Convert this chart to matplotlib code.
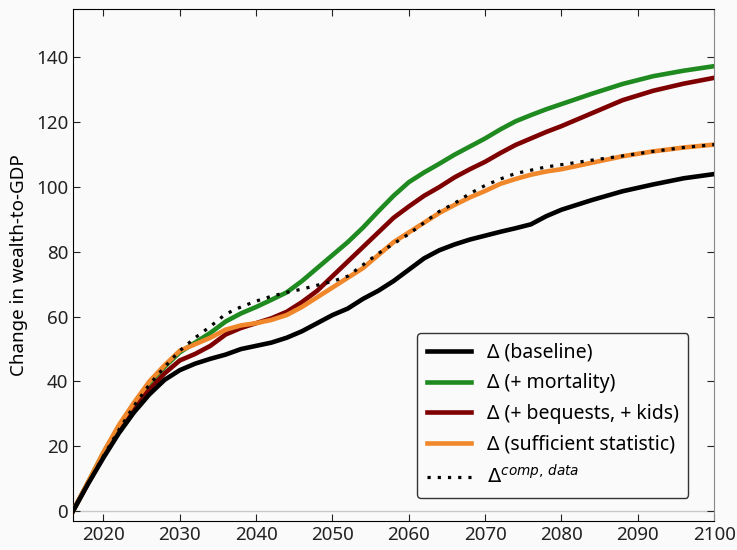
import matplotlib
matplotlib.use("Agg")
import matplotlib.pyplot as plt

plt.rcParams['font.family'] = ['Noto Sans', 'DejaVu Sans']

years = [2016, 2018, 2020, 2022, 2024, 2026, 2028, 2030, 2032, 2034, 2036, 2038,
         2040, 2042, 2044, 2046, 2048, 2050, 2052, 2054, 2056, 2058, 2060, 2062,
         2064, 2066, 2068, 2070, 2072, 2074, 2076, 2078, 2080, 2084, 2088, 2092,
         2096, 2100]

baseline = [0, 8.5, 16.5, 24, 30.5, 36, 40.5, 43.5, 45.5, 47, 48.3, 50,
            51, 52, 53.5, 55.5, 58, 60.5, 62.5, 65.5, 68, 71, 74.5, 78,
            80.5, 82.3, 83.8, 85.0, 86.2, 87.3, 88.5, 91, 93, 96, 98.7, 100.8,
            102.7, 104]
mortality = [0, 9, 18, 26, 33, 39.5, 44.5, 49, 52, 55, 58.5, 61,
             63, 65.2, 67.5, 71, 75, 79, 83, 87.5, 92.5, 97.3, 101.5, 104.5,
             107.2, 110, 112.5, 115, 117.8, 120.3, 122.2, 124, 125.6, 128.8, 131.8, 134.2,
             135.9, 137.3]
bequests = [0, 8.8, 17.2, 25, 32, 37.5, 42.5, 46.5, 48.5, 51, 54.5, 56.5,
            58, 59.5, 61.5, 64.5, 68, 72.5, 77, 81.5, 86, 90.5, 94, 97.3,
            100, 103, 105.5, 107.8, 110.5, 113, 115, 117, 118.8, 122.8, 126.8, 129.7,
            131.9, 133.7]
suff_stat = [0, 9, 18.2, 26.5, 33.5, 40, 45, 49.5, 51.5, 53.5, 56, 57.3,
             58, 59, 60.5, 63, 66, 69, 72, 75, 79, 83, 86, 89,
             92, 94.5, 96.8, 98.8, 101, 102.5, 103.8, 104.8, 105.5, 107.5, 109.5, 111,
             112.2, 113.1]
comp_data = [0, 8.6, 17, 25, 32.5, 39, 44.5, 49.5, 53.5, 57, 60.8, 63,
             64.8, 66.3, 67.5, 68.5, 69.7, 70.9, 72.5, 76, 79.5, 82.5, 85.5, 89,
             92.5, 95, 98, 100.5, 102.5, 104.2, 105.2, 106.2, 106.9, 108.3, 109.6, 111,
             112.2, 113.1]

bg = '#fafafa'
fig = plt.figure(figsize=(7.37, 5.5), dpi=100, facecolor=bg)
ax = fig.add_axes([0.099, 0.053, 0.870, 0.931], facecolor=bg)

ax.axhline(0, color='#c8c8c8', lw=1, zorder=1)
ax.plot(years, mortality, color='#1f8a1f', lw=3.3, label='Δ (+ mortality)', zorder=3)
ax.plot(years, bequests, color='#7f0000', lw=3.3, label='Δ (+ bequests, + kids)', zorder=3)
ax.plot(years, suff_stat, color='#f0872a', lw=3.3, label='Δ (sufficient statistic)', zorder=3)
ax.plot(years, baseline, color='black', lw=3.3, label='Δ (baseline)', zorder=4)
ax.plot(years, comp_data, color='black', lw=2.3, ls=(0, (1, 2.2)),
        label=r'$\Delta^{comp,\,data}$', zorder=5)

ax.set_xlim(2016, 2100)
ax.set_ylim(-3, 155)
ax.set_xticks([2020, 2030, 2040, 2050, 2060, 2070, 2080, 2090, 2100])
ax.set_yticks([0, 20, 40, 60, 80, 100, 120, 140])
ax.tick_params(direction='in', top=True, right=True, length=5, labelsize=13.5,
               colors='#222222')
ax.spines['right'].set_color('#888888')
ax.set_ylabel('Change in wealth-to-GDP', fontsize=13.5, labelpad=6)

h, l = ax.get_legend_handles_labels()
order = [3, 0, 1, 2, 4]
leg = ax.legend([h[i] for i in order], [l[i] for i in order], loc='lower right',
                fontsize=14, frameon=True, fancybox=True, framealpha=1,
                edgecolor='#333333', facecolor=bg, handlelength=2.3,
                borderpad=0.5, labelspacing=0.55, bbox_to_anchor=(0.975, 0.025))
leg.get_frame().set_linewidth(1.0)

fig.savefig('out.png', dpi=100, facecolor=bg)
